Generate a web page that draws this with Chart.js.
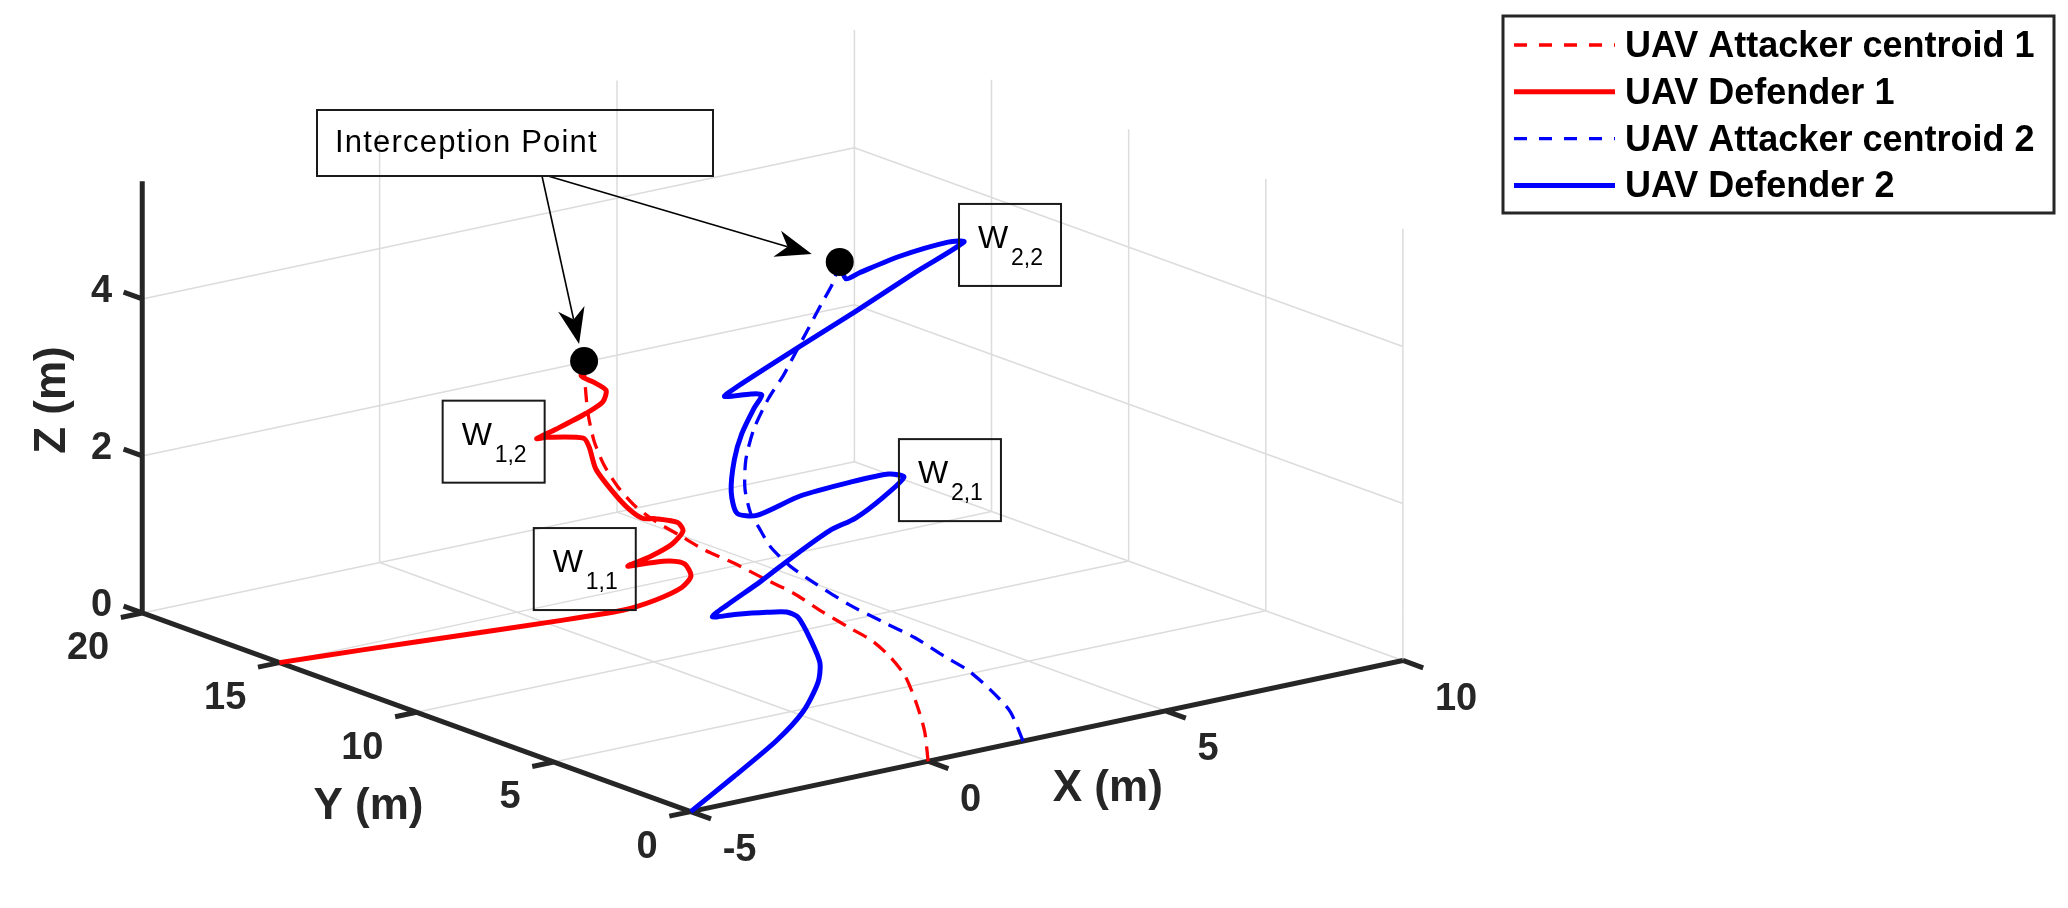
<!DOCTYPE html>
<html lang="en">
<head>
<meta charset="UTF-8">
<title>UAV attacker / defender trajectories</title>
<script src="https://cdn.jsdelivr.net/npm/chart.js"></script>
<style>
  html, body { margin: 0; padding: 0; background: #fff; }
  #wrap { width: 2068px; height: 908px; }
</style>
</head>
<body>
<div id="wrap"><canvas id="traj"></canvas></div>
<script>
// axis limits and ticks (m)
const xLim = [-5, 10], yLim = [0, 20], zLim = [0, 5.5];
const xTicks = [-5, 0, 5, 10];
const yTicks = [0, 5, 10, 15, 20];
const zTicks = [0, 2, 4];

// UAV attacker centroid 1
const a1x = [0, 0.10, 0.22, 0.38, 0.47, 0.56, 0.54, 0.50, 0.40, 0.23, 0.02, -0.26, -0.49, -0.78, -1.02, -1.28, -1.46, -1.55, -1.56, -1.53, -1.47];
const a1y = [0, 0.3, 0.8, 1.5, 2.2, 3.0, 3.8, 4.7, 5.6, 6.4, 7.1, 7.7, 8.2, 8.6, 8.9, 9.1, 9.3, 9.5, 9.7, 9.85, 10];
const a1z = [0, 0.33, 0.60, 0.85, 0.99, 1.08, 1.15, 1.24, 1.38, 1.49, 1.62, 1.75, 1.90, 2.07, 2.25, 2.51, 2.79, 3.08, 3.40, 3.72, 4.02];

// UAV defender 1
const d1x = [-5, -3.49, -1.64, 0.20, 1.42, 1.93, 2.32, 2.34, 2.04, 1.61, 1.08, 0.49, 0.91, 1.31, 1.48, 1.31, 0.78, 0.45, 0.10, -0.29, -0.70, -0.90, -1.08, -1.91, -2.18, -1.82, -1.25, -0.96, -0.95, -1.25, -1.53, -1.47];
const d1y = [15, 14.7, 14.3, 13.9, 13.6, 13.3, 13.0, 12.7, 12.4, 12.2, 12.0, 11.8, 11.7, 11.6, 11.5, 11.4, 11.3, 11.2, 11.1, 11.0, 10.9, 10.8, 10.7, 10.6, 10.5, 10.4, 10.3, 10.2, 10.1, 10.05, 10.0, 10.0];
const d1z = [0, 0, 0, 0, 0.02, 0.12, 0.27, 0.45, 0.68, 0.80, 0.87, 0.93, 1.01, 1.13, 1.29, 1.43, 1.56, 1.62, 1.80, 2.08, 2.43, 2.75, 2.90, 3.03, 3.06, 3.15, 3.29, 3.41, 3.57, 3.72, 3.84, 4.02];

// UAV attacker centroid 2
const a2x = [2, 1.96, 1.89, 1.82, 1.73, 1.62, 1.46, 1.29, 1.10, 0.97, 0.90, 0.94, 1.00, 1.11, 1.36, 1.82, 2.42, 2.96, 3.44, 3.94, 4.39, 4.81, 5.07];
const a2y = [0, 0.4, 1.0, 1.7, 2.4, 3.3, 4.2, 5.1, 6.0, 6.7, 7.3, 7.8, 8.2, 8.6, 9.0, 9.5, 10.0, 10.4, 10.8, 11.2, 11.5, 11.8, 12];
const a2z = [0, 0.33, 0.54, 0.71, 0.81, 0.95, 1.06, 1.18, 1.36, 1.51, 1.69, 1.87, 1.99, 2.24, 2.53, 2.80, 3.05, 3.22, 3.39, 3.58, 3.80, 3.98, 4.19];

// UAV defender 2
const d2x = [-5, -3.80, -2.56, -1.65, -0.99, -0.66, -0.56, -0.60, -0.67, -0.97, -1.54, -1.89, -1.46, -0.58, 0.28, 1.22, 1.88, 2.55, 3.13, 2.87, 2.16, 1.29, 0.55, 0.25, 0.30, 0.54, 0.87, 1.30, 1.58, 1.41, 0.91, 1.29, 2.71, 4.25, 5.78, 7.11, 6.89, 6.03, 5.37, 5.14, 5.07];
const d2y = [0, 0.5, 1.1, 1.7, 2.3, 2.8, 3.3, 3.7, 4.0, 4.2, 4.4, 4.6, 4.8, 5.1, 5.4, 5.7, 5.9, 6.1, 6.3, 6.4, 6.6, 6.9, 7.2, 7.4, 7.7, 8.0, 8.3, 8.6, 8.8, 8.9, 9.0, 9.2, 9.6, 10.0, 10.5, 11.0, 11.2, 11.5, 11.8, 11.9, 12];
const d2z = [0, 0.23, 0.45, 0.63, 0.84, 0.98, 1.19, 1.44, 1.48, 1.49, 1.51, 1.50, 1.57, 1.72, 1.89, 2.06, 2.11, 2.25, 2.42, 2.48, 2.44, 2.34, 2.15, 2.19, 2.42, 2.76, 3.01, 3.24, 3.35, 3.37, 3.39, 3.44, 3.67, 3.92, 4.15, 4.31, 4.31, 4.20, 4.04, 3.98, 4.19];

// interception points
const intX = [-1.47, 5.07];
const intY = [10, 12];
const intZ = [4.02, 4.19];

// waypoints: which defender, sample index on its path
const wayLabels = ['1,1', '1,2', '2,1', '2,2'];
const wayDefender = [1, 1, 2, 2];
const wayIndex = [11, 24, 18, 35];

const legendLabels = ['UAV Attacker centroid 1', 'UAV Defender 1', 'UAV Attacker centroid 2', 'UAV Defender 2'];

// fixed 3D view (orthographic), in chart units
const view = { ox: 686, oy: 823, ex: [48.13, -10.4], ey: [-27.8, -10.25], ez: [0, -81] };

function proj(x, y, z) {
    const dx = x - xLim[0], dy = y - yLim[0], dz = z - zLim[0];
    return {
        x: view.ox + dx * view.ex[0] + dy * view.ey[0] + dz * view.ez[0],
        y: view.oy + dx * view.ex[1] + dy * view.ey[1] + dz * view.ez[1]
    };
}
function path(xs, ys, zs) { return xs.map((v, i) => proj(v, ys[i], zs[i])); }
function segments(list) {
    const out = [];
    list.forEach(s => { out.push(proj(...s[0]), proj(...s[1]), { x: NaN, y: null }); });
    return out;
}

// grid on floor and the two back walls
const gridSegs = [];
xTicks.forEach(t => gridSegs.push([[t, yLim[0], zLim[0]], [t, yLim[1], zLim[0]]]));
yTicks.forEach(t => gridSegs.push([[xLim[0], t, zLim[0]], [xLim[1], t, zLim[0]]]));
xTicks.forEach(t => gridSegs.push([[t, yLim[1], zLim[0]], [t, yLim[1], zLim[1]]]));
zTicks.forEach(t => gridSegs.push([[xLim[0], yLim[1], t], [xLim[1], yLim[1], t]]));
yTicks.forEach(t => gridSegs.push([[xLim[1], t, zLim[0]], [xLim[1], t, zLim[1]]]));
zTicks.forEach(t => gridSegs.push([[xLim[1], yLim[0], t], [xLim[1], yLim[1], t]]));

// axis lines + tick marks
const axisSegs = [
    [[xLim[0], yLim[0], zLim[0]], [xLim[1], yLim[0], zLim[0]]],
    [[xLim[0], yLim[0], zLim[0]], [xLim[0], yLim[1], zLim[0]]],
    [[xLim[0], yLim[1], zLim[0]], [xLim[0], yLim[1], zLim[1]]]
];
xTicks.forEach(t => axisSegs.push([[t, 0, 0], [t, -0.74, 0]]));
yTicks.forEach(t => axisSegs.push([[-5, t, 0], [-5.45, t, 0]]));
zTicks.forEach(t => axisSegs.push([[-5, 20, t], [-5, 20.68, t]]));

const red = '#ff0000', blue = '#0000ff', ink = '#262626';

function traj(label, pts, color, width, dash, order) {
    return {
        label: label, data: pts, showLine: true, inLegend: true,
        borderColor: color, backgroundColor: color, borderWidth: width, borderDash: dash,
        pointRadius: 0, tension: 0.25, order: order, clip: false
    };
}

const overlay = {
    id: 'overlay',
    afterDatasetsDraw(chart) {
        const ctx = chart.ctx;
        const sx = chart.scales.x, sy = chart.scales.y;
        const pix = (x, y, z) => { const p = proj(x, y, z); return [sx.getPixelForValue(p.x), sy.getPixelForValue(p.y)]; };
        const fam = "'Liberation Sans', Arial, sans-serif";
        ctx.save();

        // tick labels
        ctx.letterSpacing = '0px';
        ctx.fillStyle = ink;
        ctx.font = 'bold 38px ' + fam;
        ctx.textBaseline = 'middle';
        ctx.textAlign = 'left';
        xTicks.forEach(t => { const [u, v] = pix(t, 0, 0); ctx.fillText(String(t), u + 32, v + 39); });
        ctx.textAlign = 'right';
        yTicks.forEach(t => { const [u, v] = pix(-5, t, 0); ctx.fillText(String(t), u - 33, v + 36); });
        zTicks.forEach(t => { const [u, v] = pix(-5, 20, t); ctx.fillText(String(t), u - 30, v - 7); });

        // axis labels
        ctx.font = 'bold 44px ' + fam;
        ctx.textAlign = 'center';
        let [u, v] = pix(2.5, 0, 0);
        ctx.fillText('X (m)', u + 61, v + 53);
        [u, v] = pix(-5, 10, 0);
        ctx.fillText('Y (m)', u - 48, v + 95);
        [u, v] = pix(-5, 20, 2.75);
        ctx.save();
        ctx.translate(u - 89, v + 3);
        ctx.rotate(-Math.PI / 2);
        ctx.fillText('Z (m)', 0, 0);
        ctx.restore();

        // waypoint boxes (no fill, like the figure annotations)
        const dPaths = { 1: [d1x, d1y, d1z], 2: [d2x, d2y, d2z] };
        wayLabels.forEach((lab, i) => {
            const d = dPaths[wayDefender[i]], k = wayIndex[i];
            const [tu, tv] = pix(d[0][k], d[1][k], d[2][k]);
            const w = 102, h = 82;
            const left = wayDefender[i] === 1 ? tu + 8 - w : tu - 5;
            const top = tv - 38;
            ctx.strokeStyle = '#1a1a1a';
            ctx.lineWidth = 2;
            ctx.strokeRect(left, top, w, h);
            ctx.fillStyle = '#000';
            ctx.textAlign = 'left';
            ctx.textBaseline = 'alphabetic';
            ctx.font = '32px ' + fam;
            ctx.fillText('W', left + 19, top + 44);
            ctx.font = '23px ' + fam;
            ctx.fillText(lab, left + 52, top + 61);
        });

        // interception annotation
        const box = { x: 317, y: 110, w: 396, h: 66 };
        const ends = [[-5, -17], [-28, -8]];
        const starts = [box.x + 225, box.x + 231];
        intX.forEach((ix, i) => {
            const [pu, pv] = pix(ix, intY[i], intZ[i]);
            arrow(ctx, starts[i], box.y + box.h, pu + ends[i][0], pv + ends[i][1]);
        });
        ctx.strokeStyle = '#1a1a1a';
        ctx.lineWidth = 2;
        ctx.strokeRect(box.x, box.y, box.w, box.h);
        ctx.fillStyle = '#000';
        ctx.font = '31px ' + fam;
        ctx.letterSpacing = '1.2px';
        ctx.textBaseline = 'middle';
        ctx.fillText('Interception Point', box.x + 18, box.y + box.h / 2);

        // legend
        const lg = { x: 1503, y: 16, w: 551, h: 197, row: 46.8 };
        ctx.fillStyle = '#fff';
        ctx.fillRect(lg.x, lg.y, lg.w, lg.h);
        ctx.strokeStyle = ink;
        ctx.lineWidth = 3;
        ctx.strokeRect(lg.x, lg.y, lg.w, lg.h);
        ctx.font = 'bold 36px ' + fam;
        ctx.letterSpacing = '0px';
        chart.data.datasets.filter(ds => ds.inLegend).forEach((ds, i) => {
            const cy = lg.y + 29 + i * lg.row;
            ctx.strokeStyle = ds.borderColor;
            ctx.lineWidth = ds.borderWidth;
            ctx.setLineDash(ds.borderDash.length ? [13, 12] : []);
            ctx.beginPath();
            ctx.moveTo(lg.x + 11, cy);
            ctx.lineTo(lg.x + 112, cy);
            ctx.stroke();
            ctx.setLineDash([]);
            ctx.fillStyle = '#000';
            ctx.fillText(ds.label, lg.x + 122, cy + 2);
        });
        ctx.restore();
    }
};

function arrow(ctx, x0, y0, x1, y1) {
    const a = Math.atan2(y1 - y0, x1 - x0), L = 36, W = 27;
    const c = Math.cos(a), s = Math.sin(a);
    const bx = x1 - L * c, by = y1 - L * s;
    const nx = x1 - 0.7 * L * c, ny = y1 - 0.7 * L * s;
    ctx.strokeStyle = '#000';
    ctx.lineWidth = 1.6;
    ctx.beginPath();
    ctx.moveTo(x0, y0);
    ctx.lineTo(nx, ny);
    ctx.stroke();
    ctx.fillStyle = '#000';
    ctx.beginPath();
    ctx.moveTo(x1, y1);
    ctx.lineTo(bx - W / 2 * s, by + W / 2 * c);
    ctx.lineTo(nx, ny);
    ctx.lineTo(bx + W / 2 * s, by - W / 2 * c);
    ctx.closePath();
    ctx.fill();
}

new Chart(document.getElementById('traj'), {
    type: 'scatter',
    data: {
        datasets: [
            traj(legendLabels[0], path(a1x, a1y, a1z), red, 3.3, [15, 9], 4),
            traj(legendLabels[1], path(d1x, d1y, d1z), red, 5, [], 3),
            traj(legendLabels[2], path(a2x, a2y, a2z), blue, 3.3, [15, 9], 2),
            traj(legendLabels[3], path(d2x, d2y, d2z), blue, 5, [], 1),
            {
                label: 'grid', data: segments(gridSegs), showLine: true, borderColor: '#dcdcdc',
                borderWidth: 1.5, pointRadius: 0, tension: 0, order: 10, clip: false
            },
            {
                label: 'axes', data: segments(axisSegs), showLine: true, borderColor: ink,
                borderWidth: 5, pointRadius: 0, tension: 0, order: 9, clip: false
            },
            {
                label: 'interception', data: path(intX, intY, intZ), showLine: false,
                pointRadius: 14, pointBackgroundColor: '#000', pointBorderWidth: 0, order: 0, clip: false
            }
        ]
    },
    options: {
        responsive: true,
        maintainAspectRatio: false,
        animation: false,
        events: [],
        layout: { padding: 0 },
        plugins: { legend: { display: false }, tooltip: { enabled: false } },
        scales: {
            x: { type: 'linear', min: 0, max: 2068, display: false },
            y: { type: 'linear', min: 0, max: 908, reverse: true, display: false }
        }
    },
    plugins: [overlay]
});
</script>
</body>
</html>
